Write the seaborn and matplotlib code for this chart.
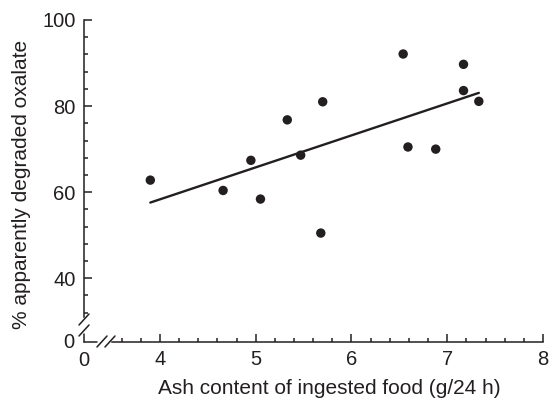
import matplotlib
matplotlib.use("Agg")
import matplotlib.pyplot as plt
from matplotlib.lines import Line2D
from matplotlib.ticker import MultipleLocator
from matplotlib.transforms import Affine2D
import pandas as pd
import seaborn as sns

# values
ash = [3.90, 4.66, 4.95, 5.05, 5.33, 5.47, 5.70, 5.68, 6.54, 7.17, 7.17, 7.33, 6.59, 6.88]
oxalate = [62.8, 60.4, 67.4, 58.4, 76.8, 68.6, 81.0, 50.5, 92.1, 89.7, 83.6, 81.1, 70.5, 70.0]
x_ticks = [4, 5, 6, 7, 8]
y_ticks = [40, 60, 80, 100]

df = pd.DataFrame({"ash": ash, "oxalate": oxalate})

sns.set_style("ticks")
plt.rcParams["font.family"] = ["Liberation Sans", "DejaVu Sans"]
ink = "#231f20"
fs_tick = 14.5
fs_lab = 15

W, H = 557, 401
fig = plt.figure(figsize=(W / 100, H / 100), dpi=100)
ax = fig.add_axes([112 / W, 1 - 317 / H, 431 / W, 297 / H])

sns.regplot(data=df, x="ash", y="oxalate", ax=ax, ci=None, truncate=True,
            scatter_kws={"s": 46, "color": ink, "edgecolor": "none", "alpha": 1},
            line_kws={"color": ink, "lw": 1.7})

ax.set_xlim(3.5, 8)
ax.set_ylim(31, 100)
ax.set_xticks(x_ticks)
ax.set_yticks(y_ticks)
ax.xaxis.set_minor_locator(MultipleLocator(0.2))
ax.yaxis.set_minor_locator(MultipleLocator(4))

ax.spines[["top", "right"]].set_visible(False)
ax.spines["bottom"].set_position(("outward", 25 * 0.72))
ax.spines["left"].set_position(("outward", 28 * 0.72))
for s in ["bottom", "left"]:
    ax.spines[s].set_linewidth(1.1)
    ax.spines[s].set_color(ink)

ax.tick_params(which="major", direction="in", length=5.5, width=1.1,
               color=ink, labelcolor=ink, labelsize=fs_tick)
ax.tick_params(which="minor", direction="in", length=3, width=1.1, color=ink)
ax.tick_params(axis="x", which="major", pad=6)
ax.tick_params(axis="y", which="major", pad=6)

ax.set_xlabel("Ash content of ingested food (g/24 h)", fontsize=fs_lab, color=ink, va="center")
ax.set_ylabel("% apparently degraded oxalate", fontsize=fs_lab, color=ink, va="center")
ax.xaxis.set_label_coords((329 - 112) / 431, (317 - 388) / 297)
ax.yaxis.set_label_coords((22 - 112) / 431, (317 - 184) / 297)

# axis breaks and the origin, in pixel coordinates
pix = Affine2D().scale(1 / W, -1 / H).translate(0, 1) + fig.transFigure
segs = [
    ((84, 97), (342, 342)),
    ((84, 84), (342, 334)),
    ((97, 107), (347, 336)),
    ((105, 115), (347, 336)),
    ((79, 89), (325, 314)),
    ((79, 89), (336, 325)),
]
for xs, ys in segs:
    fig.add_artist(Line2D(xs, ys, color=ink, lw=1.1, transform=pix))

fig.text(84 / W, 1 - 351 / H, "0", ha="center", va="top", fontsize=fs_tick, color=ink)
fig.text(74 / W, 1 - 343 / H, "0", ha="right", va="center", fontsize=fs_tick, color=ink)

fig.savefig("out.png", dpi=100)
